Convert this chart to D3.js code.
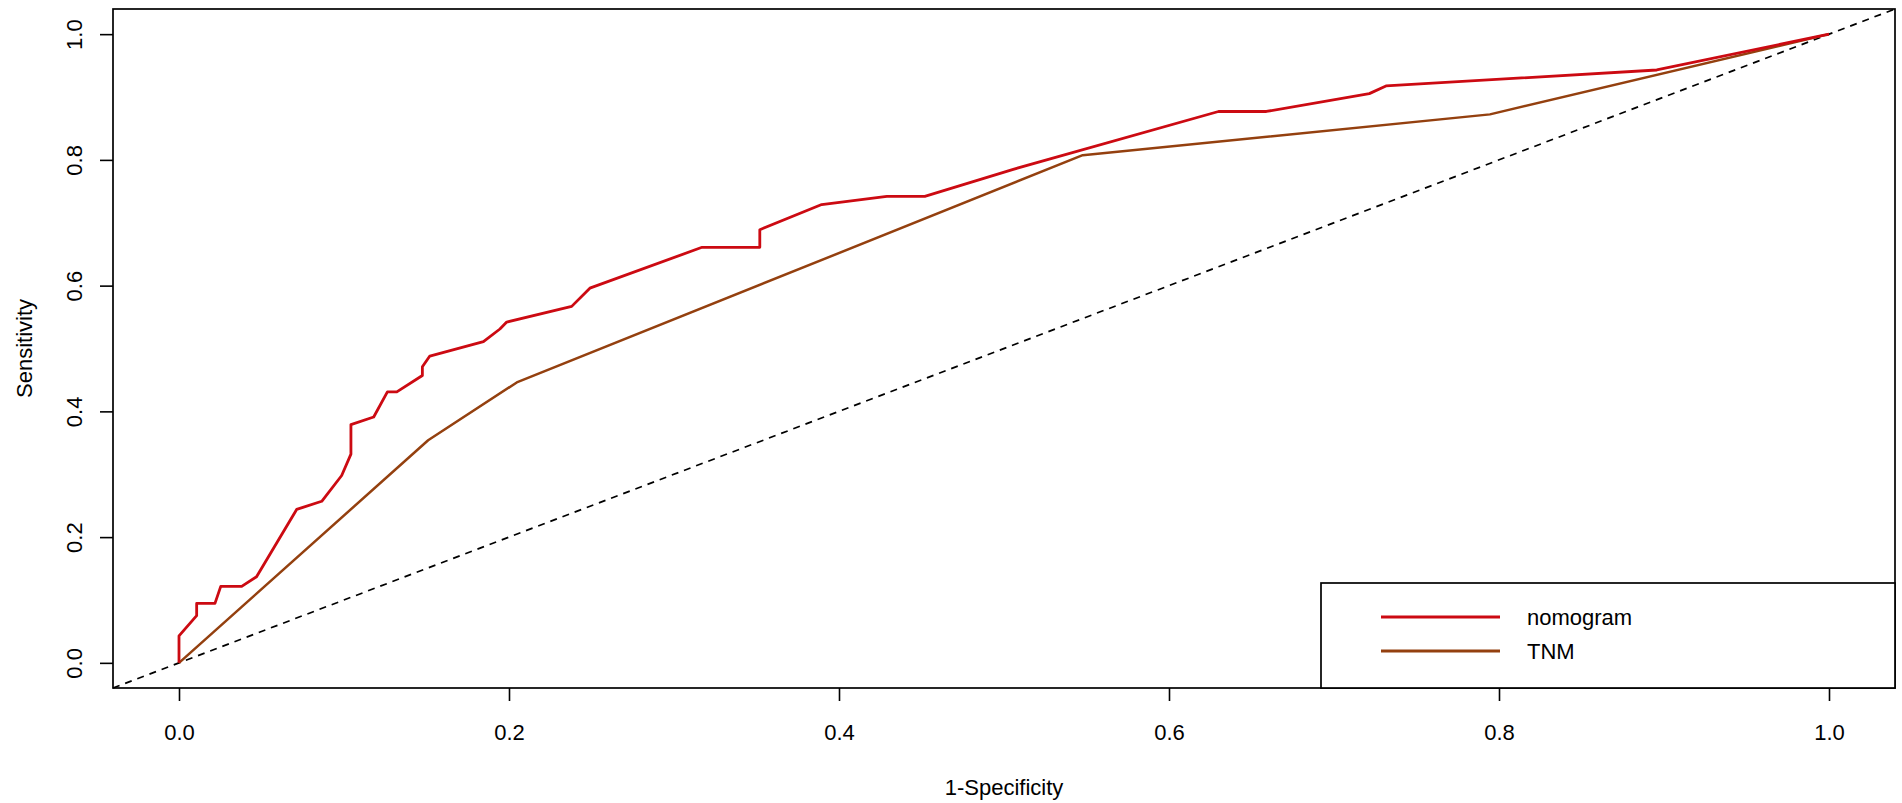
<!DOCTYPE html>
<html>
<head>
<meta charset="utf-8">
<script src="https://cdn.jsdelivr.net/npm/d3@7"></script>
<style>
  body { margin: 0; background: #fff; }
  svg { display: block; font-family: "Liberation Sans", Arial, sans-serif; }
</style>
</head>
<body>
<div id="roc"></div>
<script>
// ROC curves (1-specificity, sensitivity)
var nomoX = [0, 0, 0.0107, 0.0107, 0.0218, 0.0253, 0.038, 0.047, 0.0713, 0.0865, 0.0986, 0.1042, 0.1042, 0.118, 0.1263, 0.132, 0.1475, 0.1475, 0.152, 0.1845, 0.1945, 0.1986, 0.238, 0.249, 0.317, 0.352, 0.352, 0.3895, 0.429, 0.452, 0.5056, 0.63, 0.659, 0.7214, 0.7315, 0.8956, 1];
var nomoY = [0, 0.043, 0.075, 0.0946, 0.0946, 0.1217, 0.1217, 0.137, 0.244, 0.257, 0.298, 0.332, 0.379, 0.391, 0.431, 0.431, 0.457, 0.471, 0.488, 0.511, 0.531, 0.542, 0.567, 0.596, 0.661, 0.661, 0.689, 0.729, 0.742, 0.742, 0.785, 0.877, 0.877, 0.9054, 0.9176, 0.943, 1];
var tnmX = [0, 0.151, 0.2047, 0.5477, 0.7945, 1];
var tnmY = [0, 0.354, 0.446, 0.8075, 0.8724, 1];
var tickVals = [0, 0.2, 0.4, 0.6, 0.8, 1.0];
var seriesNames = ["nomogram", "TNM"];
var seriesColors = ["#cc0a12", "#94400f"];

var width = 1902, height = 803;
// plot box (note: "top" is a reserved window property, so use other names)
var boxL = 113, boxR = 1895, boxT = 9, boxB = 688;

const svg = d3.select("#roc")
  .append("svg")
  .attr("width", width)
  .attr("height", height);

svg.append("rect").attr("width", width).attr("height", height).attr("fill", "#fff");

// R style axes: 4% padding each side
const x = d3.scaleLinear().domain([-0.04, 1.04]).range([boxL, boxR]);
const y = d3.scaleLinear().domain([-0.04, 1.04]).range([boxB, boxT]);

// diagonal reference line
svg.append("line")
  .attr("x1", x(-0.04)).attr("y1", y(-0.04))
  .attr("x2", x(1.04)).attr("y2", y(1.04))
  .attr("stroke", "#000")
  .attr("stroke-width", 1.7)
  .attr("stroke-dasharray", "7,6");

const line = d3.line()
  .x(d => x(d[0]))
  .y(d => y(d[1]));

var series = [
  d3.zip(nomoX, nomoY),
  d3.zip(tnmX, tnmY)
];

// draw TNM first so nomogram sits on top
[1, 0].forEach(function(i) {
  svg.append("path")
    .datum(series[i])
    .attr("fill", "none")
    .attr("stroke", seriesColors[i])
    .attr("stroke-width", i == 0 ? 2.8 : 2.5)
    .attr("stroke-linejoin", "round")
    .attr("d", line);
});

// x axis
const xAxis = svg.append("g")
  .attr("transform", `translate(0,${boxB})`)
  .call(d3.axisBottom(x).tickValues(tickVals).tickFormat(d3.format(".1f")).tickSize(13));
xAxis.select(".domain").remove();
xAxis.selectAll(".tick line").attr("stroke", "#000").attr("stroke-width", 1.6);
xAxis.selectAll(".tick text")
  .attr("y", 52).attr("dy", 0)
  .attr("fill", "#000")
  .style("font-size", "22px")
  .style("font-family", "Liberation Sans, Arial, sans-serif");

// y axis
const yAxis = svg.append("g")
  .attr("transform", `translate(${boxL},0)`)
  .call(d3.axisLeft(y).tickValues(tickVals).tickFormat(d3.format(".1f")).tickSize(13));
yAxis.select(".domain").remove();
yAxis.selectAll(".tick line").attr("stroke", "#000").attr("stroke-width", 1.6);
yAxis.selectAll(".tick text")
  .attr("transform", "rotate(-90)")
  .attr("x", 0).attr("y", -31).attr("dy", 0)
  .attr("text-anchor", "middle")
  .attr("fill", "#000")
  .style("font-size", "22px")
  .style("font-family", "Liberation Sans, Arial, sans-serif");

// box around plot
svg.append("rect")
  .attr("x", boxL).attr("y", boxT)
  .attr("width", boxR - boxL).attr("height", boxB - boxT)
  .attr("fill", "none")
  .attr("stroke", "#000")
  .attr("stroke-width", 1.7);

// axis titles
svg.append("text")
  .attr("x", (boxL + boxR) / 2)
  .attr("y", 795)
  .attr("text-anchor", "middle")
  .style("font-size", "22px")
  .text("1-Specificity");

svg.append("text")
  .attr("transform", `translate(32,${(boxT + boxB) / 2}) rotate(-90)`)
  .attr("text-anchor", "middle")
  .style("font-size", "22px")
  .text("Sensitivity");

// legend
const legend = svg.append("g");
legend.append("rect")
  .attr("x", 1321).attr("y", 583)
  .attr("width", boxR - 1321).attr("height", boxB - 583)
  .attr("fill", "#fff")
  .attr("stroke", "#000")
  .attr("stroke-width", 1.7);

seriesNames.forEach(function(name, i) {
  var ly = 617 + i * 34;
  legend.append("line")
    .attr("x1", 1381).attr("x2", 1500)
    .attr("y1", ly).attr("y2", ly)
    .attr("stroke", seriesColors[i])
    .attr("stroke-width", 2.8);
  legend.append("text")
    .attr("x", 1527).attr("y", ly + 8)
    .style("font-size", "22px")
    .text(name);
});
</script>
</body>
</html>
